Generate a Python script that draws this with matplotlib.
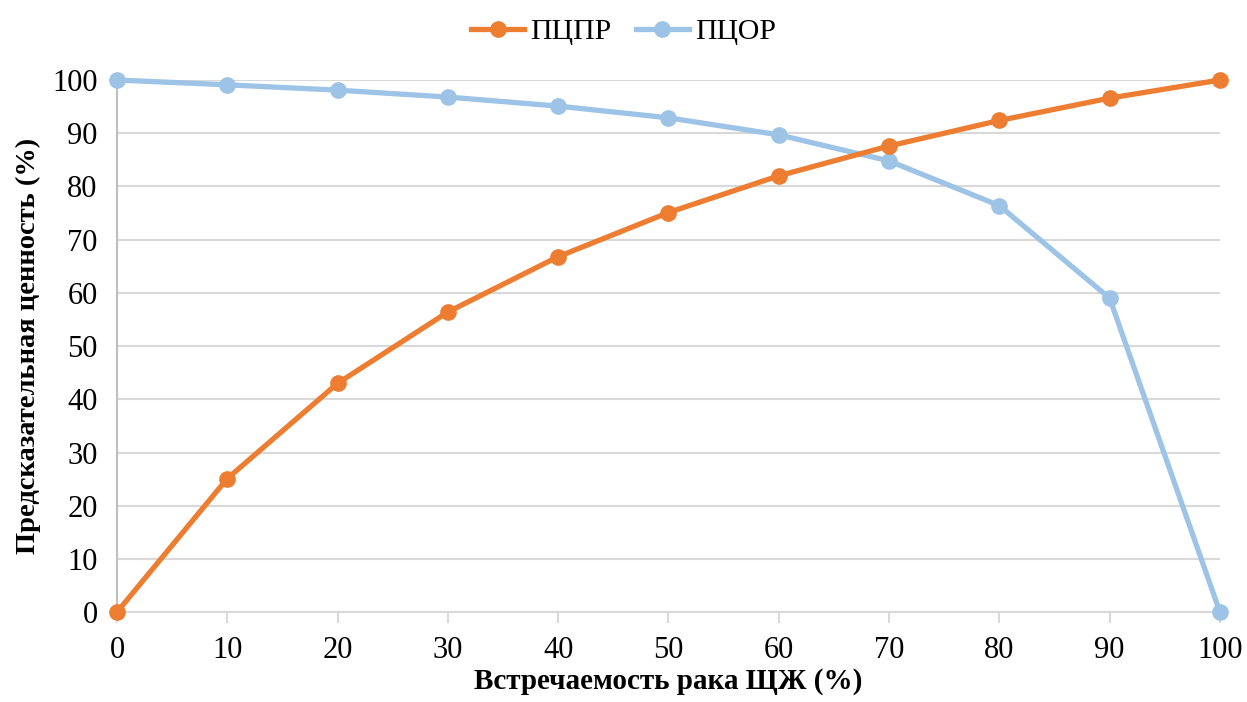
import numpy as np
import matplotlib
matplotlib.use("Agg")
import matplotlib.pyplot as plt

plt.rcParams['font.family'] = ['Liberation Serif', 'DejaVu Serif']

# prevalence of thyroid cancer (%)
prevalence = [0, 10, 20, 30, 40, 50, 60, 70, 80, 90, 100]
ppv = [0, 25.1, 43.0, 56.4, 66.8, 75.1, 82.0, 87.6, 92.4, 96.6, 100]
npv = [100, 99.1, 98.1, 96.8, 95.1, 92.9, 89.7, 84.8, 76.4, 59.0, 0]
yticks = list(range(0, 101, 10))

fig = plt.figure(figsize=(12.47, 7.02), dpi=100)
ax = fig.add_axes([0.0938, 0.128, 0.8845, 0.758])

ax.plot(prevalence, ppv, color="#ED7D31", lw=3.8, marker="o", ms=11,
        label="ПЦПР", clip_on=False, zorder=4)
ax.plot(prevalence, npv, color="#9DC3E6", lw=3.8, marker="o", ms=11,
        label="ПЦОР", clip_on=False, zorder=3)

ax.set_xlim(0, 100)
ax.set_ylim(0, 100)
ax.set_xticks(prevalence)
ax.set_yticks(yticks)
ax.grid(axis="y", color="#d9d9d9", lw=1.5)
ax.set_axisbelow(True)
for s in ["top", "right"]:
    ax.spines[s].set_visible(False)
ax.spines["left"].set_color("#bfbfbf")
ax.spines["left"].set_linewidth(1.5)
ax.spines["bottom"].set_color("#d9d9d9")
ax.spines["bottom"].set_linewidth(1.5)
ax.tick_params(axis="y", length=0, labelsize=22, pad=14)
ax.tick_params(axis="x", length=8, width=1.5, color="#d9d9d9",
               labelsize=22, pad=9)

ax.set_xlabel("Встречаемость рака ЩЖ (%)", fontsize=21, fontweight="bold",
              labelpad=2)
ax.set_ylabel("Предсказательная ценность (%)", fontsize=20.5,
              fontweight="bold", labelpad=8)

fig.legend(loc="upper center", bbox_to_anchor=(0.5, 1.012), ncol=2,
           frameon=False, fontsize=21.5, handlelength=1.8, columnspacing=0.8,
           handletextpad=0.2)

fig.savefig("out.png", dpi=100)
